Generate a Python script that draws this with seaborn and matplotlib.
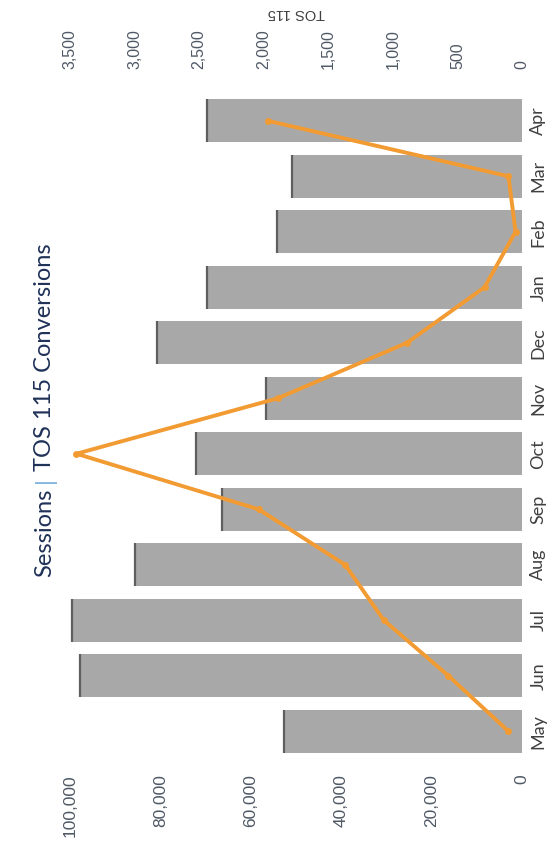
import matplotlib
matplotlib.use("Agg")
import matplotlib.pyplot as plt
import seaborn as sns
import pandas as pd
from matplotlib.ticker import FuncFormatter

# Monthly data, May through April
months = ["May", "Jun", "Jul", "Aug", "Sep", "Oct", "Nov", "Dec", "Jan", "Feb", "Mar", "Apr"]
sessions = [52700, 97800, 99600, 85600, 66400, 72200, 56700, 80700, 69800, 54200, 50900, 69800]
tos115 = [105, 570, 1070, 1370, 2040, 3450, 1890, 890, 290, 50, 105, 1970]

sessions_ticks = [0, 20000, 40000, 60000, 80000, 100000]
tos_ticks = [0, 500, 1000, 1500, 2000, 2500, 3000, 3500]

sns.set_theme(style="white")
plt.rcParams["font.family"] = ["Liberation Sans", "DejaVu Sans"]

W, H = 553, 856
fig = plt.figure(figsize=(W / 100, H / 100), dpi=100)
fig.patch.set_facecolor("white")

# The chart is laid out sideways: value axes run right-to-left, months bottom-to-top
left_px, right_px, top_px, bottom_px = 70, 522, 93, 759
ax = fig.add_axes([left_px / W, 1 - bottom_px / H,
                   (right_px - left_px) / W, (bottom_px - top_px) / H])

order = months[::-1]  # Apr at the top, May at the bottom
df = pd.DataFrame({"month": months, "sessions": sessions, "tos": tos115})
df["pos"] = [order.index(m) for m in months]

bar_w = 0.78
sns.barplot(data=df, x="sessions", y="month", order=order, orient="h",
            color="#A8A8A8", saturation=1, width=bar_w, linewidth=0, ax=ax)
# darker end cap on each bar
ax.vlines(df["sessions"], df["pos"] - bar_w / 2, df["pos"] + bar_w / 2,
          color="#5F5F5F", linewidth=1.6)

ax.set_xlim(100000, 0)
ax.set_ylim(11.5, -0.5)
ax.set_xlabel("")
ax.set_ylabel("")
ax.set_xticks(sessions_ticks)
ax.xaxis.set_major_formatter(FuncFormatter(lambda v, p: f"{int(v):,}"))
ax.tick_params(axis="x", length=0, pad=11, labelsize=12.5, labelcolor="#4F5966",
               labelrotation=90)
for lab in ax.get_xticklabels():
    lab.set_va("top")
ax.yaxis.tick_right()
ax.tick_params(axis="y", length=0, pad=6, labelsize=13, labelcolor="#404040",
               labelrotation=90)
for lab in ax.get_yticklabels():
    lab.set_va("center")
    lab.set_ha("left")
    lab.set_fontfamily(["Lato", "DejaVu Sans"])
for s in ax.spines.values():
    s.set_visible(False)

# Secondary value axis for TOS 115 conversions
ax2 = ax.twiny()
sns.lineplot(data=df, x="tos", y="pos", sort=False, orient="y", estimator=None,
             color="#F29B33", linewidth=2.8, marker="o", markersize=5,
             markeredgewidth=0, ax=ax2)
ax2.set_xlim(3500, 0)
ax.set_ylim(11.5, -0.5)
ax2.set_xticks(tos_ticks)
ax2.xaxis.set_major_formatter(FuncFormatter(lambda v, p: f"{int(v):,}"))
ax2.tick_params(axis="x", length=0, pad=17, labelsize=11.5, labelcolor="#4F5966",
                labelrotation=90)
for lab in ax2.get_xticklabels():
    lab.set_va("bottom")
ax2.set_xlabel("TOS 115", fontsize=10.5, color="#404040", rotation=180, labelpad=9)
ax2.set_ylabel("")
for s in ax2.spines.values():
    s.set_visible(False)

# Title, running up the left side, with a light blue separator
title_font = dict(fontsize=17, rotation=90, ha="center", va="bottom",
                  family=["Lato", "DejaVu Sans"])
fig.canvas.draw()
renderer = fig.canvas.get_renderer()
parts = [("Sessions", "#1F3158"), ("|", "#6FA8DC"), ("TOS 115 Conversions", "#1F3158")]
gap = 6
heights = []
for txt, col in parts:
    t = fig.text(0, 0, txt, color=col, **title_font)
    heights.append(t.get_window_extent(renderer).height)
    t.remove()
total = sum(heights) + gap * (len(parts) - 1)
cx, cy = 45, H - 410
y = cy - total / 2
for (txt, col), h in zip(parts, heights):
    fig.text(cx / W, y / H, txt, color=col, **title_font)
    y += h + gap

fig.savefig("out.png", dpi=100, facecolor="white")
